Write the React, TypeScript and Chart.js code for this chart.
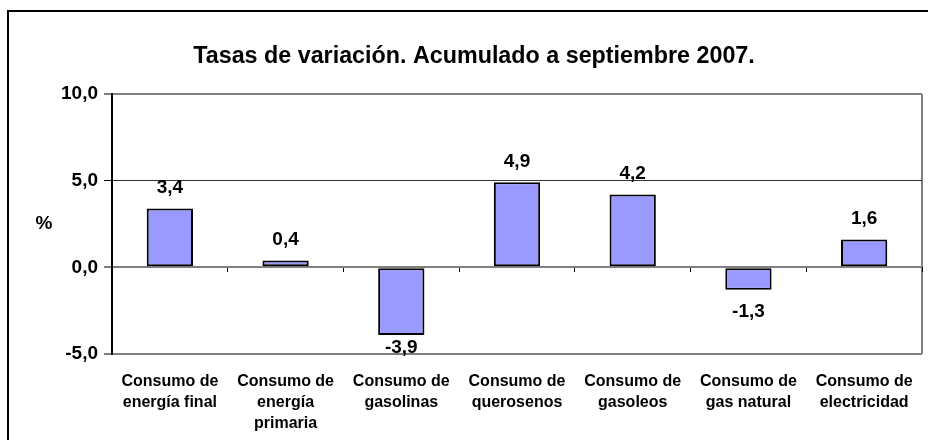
import React, { useEffect, useRef } from "react";
import { Chart, registerables } from "chart.js";

Chart.register(...registerables);

const TITLE = "Tasas de variación. Acumulado a septiembre 2007.";
const Y_TITLE = "%";
const categories: string[][] = [
  ["Consumo de", "energía final"],
  ["Consumo de", "energía", "primaria"],
  ["Consumo de", "gasolinas"],
  ["Consumo de", "querosenos"],
  ["Consumo de", "gasoleos"],
  ["Consumo de", "gas natural"],
  ["Consumo de", "electricidad"],
];
const values: number[] = [3.4, 0.4, -3.9, 4.9, 4.2, -1.3, 1.6];
const Y_MIN = -5;
const Y_MAX = 10;
const Y_STEP = 5;

const FONT = '"Liberation Sans", Arial, Helvetica, sans-serif';
const fmt = (v: number) => v.toFixed(1).replace(".", ",");

export default function App() {
  const ref = useRef<HTMLCanvasElement | null>(null);

  useEffect(() => {
    document.body.style.margin = "0";
    const canvas = ref.current;
    if (!canvas) return;

    const framePlugin = {
      id: "frame",
      beforeDraw(chart: any) {
        const c = chart.ctx;
        c.save();
        c.strokeStyle = "#000";
        c.lineWidth = 2;
        c.beginPath();
        c.moveTo(8, 440);
        c.lineTo(8, 11);
        c.lineTo(928, 11);
        c.stroke();
        c.restore();
      },
      afterDraw(chart: any) {
        const c = chart.ctx;
        const a = chart.chartArea;
        c.save();
        c.fillStyle = "#000";
        c.font = `bold 19px ${FONT}`;
        c.textAlign = "center";
        c.textBaseline = "middle";
        c.fillText(Y_TITLE, 44, (a.top + a.bottom) / 2);
        c.restore();
      },
    };

    const labelPlugin = {
      id: "barLabels",
      afterDatasetsDraw(chart: any) {
        const c = chart.ctx;
        const a = chart.chartArea;
        const meta = chart.getDatasetMeta(0);
        c.save();
        c.fillStyle = "#000";
        c.font = `bold 19px ${FONT}`;
        c.textAlign = "center";
        c.textBaseline = "middle";
        meta.data.forEach((bar: any, i: number) => {
          const v = values[i];
          let y = v >= 0 ? bar.y - 20.5 : bar.y + 21.5;
          const half = 6.7;
          if (y + half > a.bottom) y = a.bottom - half;
          c.fillText(fmt(v), bar.x, y);
        });
        c.restore();
      },
    };

    const chart = new Chart(canvas, {
      type: "bar",
      data: {
        labels: categories as any,
        datasets: [
          {
            data: values,
            backgroundColor: "#9999FF",
            borderColor: "#000",
            borderWidth: 2,
            borderSkipped: false,
            barPercentage: 0.4,
            categoryPercentage: 1,
          },
        ],
      },
      options: {
        animation: false,
        responsive: false,
        maintainAspectRatio: false,
        layout: { padding: { left: 26, right: 6, top: 0, bottom: 0 } },
        plugins: {
          legend: { display: false },
          tooltip: { enabled: false },
          title: {
            display: true,
            text: TITLE,
            color: "#000",
            font: { family: FONT, size: 23.3, weight: "bold", lineHeight: 1.2 },
            padding: { top: 42.5, bottom: 23.5 },
          },
        },
        scales: {
          x: {
            type: "category",
            position: "bottom",
            offset: true,
            grid: {
              offset: true,
              drawTicks: false,
              drawOnChartArea: true,
              color: (ctx: any) => (ctx.tick ? "rgba(0,0,0,0)" : "#808080"),
              lineWidth: 2,
            },
            border: { display: false },
            ticks: {
              color: "#000",
              font: { family: FONT, size: 16, weight: "bold", lineHeight: 1.3 },
              padding: 17.5,
              maxRotation: 0,
              minRotation: 0,
              autoSkip: false,
            },
            afterFit: (s: any) => {
              s.height = 86;
              s.paddingLeft = 0;
              s.paddingRight = 0;
            },
          },
          x2: {
            type: "category",
            axis: "x",
            position: { y: 0 } as any,
            offset: true,
            grid: {
              offset: true,
              drawOnChartArea: false,
              drawTicks: true,
              tickLength: 5,
              tickColor: "#000",
              tickWidth: 1,
            },
            border: { display: false },
            ticks: { display: false },
            afterFit: (s: any) => {
              s.paddingLeft = 0;
              s.paddingRight = 0;
            },
          },
          y: {
            type: "linear",
            min: Y_MIN,
            max: Y_MAX,
            ticks: {
              stepSize: Y_STEP,
              color: "#000",
              padding: 6,
              font: { family: FONT, size: 19, weight: "bold" },
              callback: (v: any) => fmt(Number(v)),
            },
            grid: {
              color: (ctx: any) => (ctx.tick && ctx.tick.value === 5 ? "#333" : "#808080"),
              lineWidth: (ctx: any) => (ctx.tick && ctx.tick.value === 5 ? 1 : 2),
              tickColor: "#000",
              tickWidth: 1,
              tickLength: 8,
              drawTicks: true,
            },
            border: { color: "#000", width: 2 },
            afterFit: (s: any) => {
              s.width = 86;
            },
          },
        } as any,
      },
      plugins: [framePlugin, labelPlugin],
    });

    return () => chart.destroy();
  }, []);

  return (
    <div style={{ width: 928, height: 440, background: "#fff" }}>
      <canvas ref={ref} width={928} height={440} style={{ display: "block" }} />
    </div>
  );
}
